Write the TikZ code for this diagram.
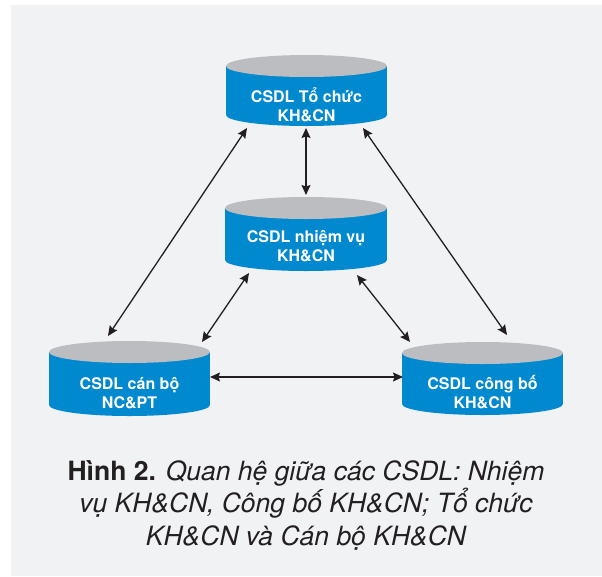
\documentclass[tikz,border=0pt]{standalone}
\usepackage{fontspec}
\setmainfont{TeX Gyre Heros}
\usetikzlibrary{arrows.meta}
\definecolor{bg}{HTML}{F1F2F4}
\definecolor{dbblue}{HTML}{0089CF}
\definecolor{dbtop}{HTML}{BCBDC0}
\definecolor{ink}{HTML}{231F20}
\newcommand\dbcylinder[4]{%
  \fill[dbblue] (#1,#3) rectangle (#2,#4);
  \fill[dbblue] ({(#1+#2)/2},#4) ellipse [x radius={(#2-#1)/2*1pt}, y radius=11pt];
  \fill[dbtop] ({(#1+#2)/2},#3) ellipse [x radius={(#2-#1)/2*1pt}, y radius=11pt];
}
\tikzset{
  dblabel/.style={text=white, align=center, inner sep=0pt,
    font=\bfseries\fontsize{16}{19}\selectfont},
  link/.style={draw=ink, line width=1.3pt,
    {Stealth[length=10pt,width=9pt,inset=1.5pt]}-{Stealth[length=10pt,width=9pt,inset=1.5pt]}},
  caption/.style={text=ink, align=center, inner sep=0pt,
    font=\itshape\fontsize{26.5}{32.5}\selectfont}
}
\begin{document}
\begin{tikzpicture}[x=1pt,y=-1pt]
\useasboundingbox (0,0) rectangle (602,576);
\fill[bg] (11,5) rectangle (602,576);

% cylinders
\dbcylinder{226}{387}{66}{115}
\dbcylinder{225}{387}{208}{260}
\dbcylinder{49}{210}{352}{405}
\dbcylinder{402}{563}{353}{404}

\node[dblabel] (org) at (306.5,104.5) {CSDL Tổ chức\\KH\&CN};
\node[dblabel] (task) at (306,246.5) {CSDL nhiệm vụ\\KH\&CN};
\node[dblabel] (staff) at (129.5,393) {CSDL cán bộ\\NC\&PT};
\node[dblabel] (pub) at (482.5,392) {CSDL công bố\\KH\&CN};

% connector end points
\coordinate (orgL) at (247,128);
\coordinate (orgM) at (306,128);
\coordinate (orgR) at (363,128);
\coordinate (taskT) at (306,195);
\coordinate (taskL) at (249,273);
\coordinate (taskR) at (357,275);
\coordinate (staffT) at (108,336);
\coordinate (staffR) at (202,342);
\coordinate (staffE) at (210,377);
\coordinate (pubT) at (507,335);
\coordinate (pubL) at (410,342);
\coordinate (pubW) at (403,377);

\draw[link] (orgL) -- (staffT);
\draw[link] (orgM) -- (taskT);
\draw[link] (orgR) -- (pubT);
\draw[link] (taskL) -- (staffR);
\draw[link] (taskR) -- (pubL);
\draw[link] (staffE) -- (pubW);

\node[caption] (cap) at (306,505) {{\upshape\bfseries Hình 2.} Quan hệ giữa các CSDL: Nhiệm\\vụ KH\&CN, Công bố KH\&CN; Tổ chức\\KH\&CN và Cán bộ KH\&CN};
\end{tikzpicture}
\end{document}
